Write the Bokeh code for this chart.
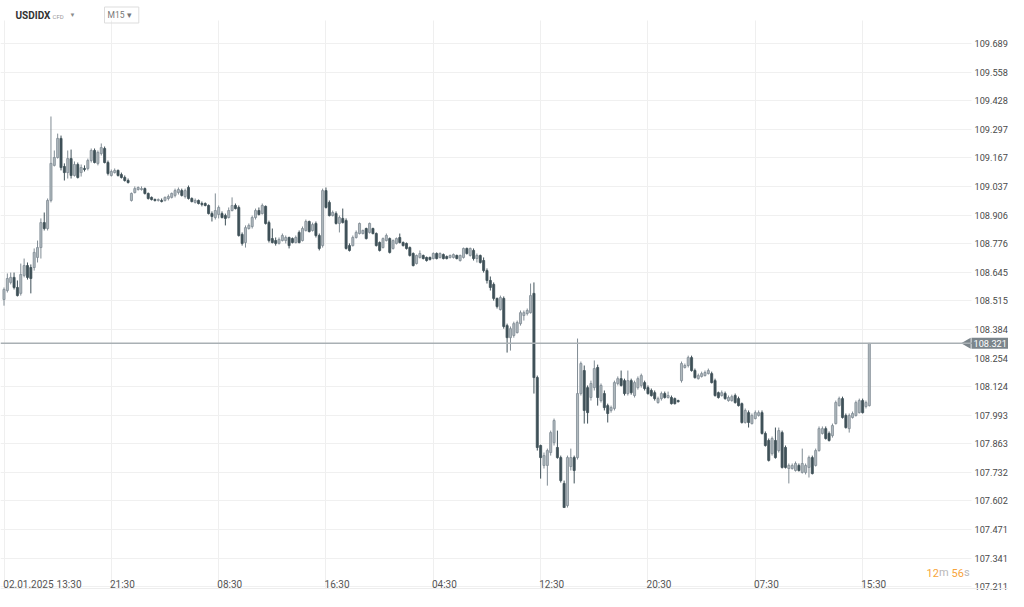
from bokeh.plotting import figure
from bokeh.models import ColumnDataSource, Range1d, FixedTicker, PrintfTickFormatter, Span, Label
from bokeh.embed import file_html
from bokeh.resources import INLINE
from bokeh.core.properties import value

symbol = "USDIDX"
instrument_type = "CFD"
timeframe = "M15"
last_price = 108.321
countdown_min = "12"
countdown_sec = "56"

opens = [
    108.521, 108.562, 108.599, 108.622, 108.576, 108.549, 108.631, 108.676, 108.667, 108.667,
    108.713, 108.758, 108.872, 108.845, 108.973, 109.133, 109.169, 109.256, 109.128, 109.100,
    109.164, 109.087, 109.137, 109.100, 109.119, 109.119, 109.155, 109.201, 109.142, 109.187,
    109.210, 109.146, 109.087, 109.100, 109.110, 109.091, 109.078, 109.064, 108.973, 109.009,
    109.023, 109.023, 109.027, 109.005, 108.987, 108.977, 108.973, 108.973, 108.973, 108.982,
    108.987, 108.996, 109.009, 109.018, 108.991, 109.032, 108.982, 108.964, 108.973, 108.959,
    108.959, 108.950, 108.913, 108.895, 108.909, 108.913, 108.904, 108.895, 108.927, 108.950,
    108.941, 108.818, 108.781, 108.845, 108.854, 108.895, 108.927, 108.913, 108.946, 108.872,
    108.799, 108.790, 108.777, 108.790, 108.790, 108.804, 108.799, 108.781, 108.827, 108.790,
    108.836, 108.877, 108.836, 108.868, 108.813, 108.767, 109.018, 108.964, 108.904, 108.913,
    108.868, 108.891, 108.881, 108.767, 108.767, 108.804, 108.822, 108.822, 108.845, 108.827,
    108.845, 108.822, 108.781, 108.758, 108.790, 108.799, 108.754, 108.777, 108.804, 108.781,
    108.777, 108.758, 108.731, 108.685, 108.713, 108.722, 108.713, 108.713, 108.708, 108.731,
    108.713, 108.726, 108.717, 108.713, 108.713, 108.722, 108.699, 108.713, 108.754, 108.722,
    108.745, 108.708, 108.722, 108.699, 108.653, 108.608, 108.590, 108.526, 108.475, 108.526,
    108.402, 108.347, 108.357, 108.370, 108.411, 108.448, 108.457, 108.461, 108.549, 108.165,
    107.855, 107.764, 107.764, 107.823, 107.868, 107.846, 107.800, 107.682, 107.581, 107.759,
    107.800, 107.800, 108.092, 108.197, 108.119, 108.074, 108.119, 108.211, 108.060, 108.092,
    108.037, 108.015, 108.024, 108.138, 108.160, 108.151, 108.092, 108.151, 108.083, 108.119,
    108.129, 108.142, 108.119, 108.106, 108.096, 108.051, 108.069, 108.092, 108.074, 108.074,
    108.069, 108.060, 108.151, 108.211, 108.220, 108.256, 108.197, 108.160, 108.170, 108.174,
    108.183, 108.183, 108.151, 108.096, 108.083, 108.092, 108.060, 108.060, 108.083, 108.069,
    108.046, 107.960, 108.005, 107.955, 107.978, 107.992, 108.005, 107.910, 107.878, 107.818,
    107.878, 107.832, 107.914, 107.846, 107.750, 107.750, 107.741, 107.764, 107.732, 107.732,
    107.755, 107.800, 107.764, 107.832, 107.910, 107.932, 107.910, 107.900, 107.955, 108.037,
    108.069, 107.992, 107.932, 107.983, 107.992, 108.005, 108.060, 108.033, 108.037,
]

highs = [
    108.576, 108.640, 108.644, 108.644, 108.608, 108.685, 108.708, 108.690, 108.681, 108.754,
    108.790, 108.891, 108.918, 108.982, 109.356, 109.201, 109.278, 109.269, 109.142, 109.201,
    109.205, 109.151, 109.146, 109.137, 109.133, 109.164, 109.210, 109.210, 109.201, 109.233,
    109.219, 109.155, 109.114, 109.119, 109.114, 109.100, 109.087, 109.073, 109.009, 109.037,
    109.037, 109.037, 109.032, 109.009, 108.991, 108.982, 108.982, 108.982, 108.991, 109.000,
    109.009, 109.027, 109.032, 109.027, 109.027, 109.041, 108.987, 108.982, 108.977, 108.968,
    108.964, 108.955, 108.923, 109.005, 108.950, 108.923, 108.913, 108.941, 108.987, 108.959,
    108.950, 108.827, 108.859, 108.868, 108.904, 108.936, 108.941, 108.959, 108.950, 108.881,
    108.845, 108.804, 108.804, 108.822, 108.813, 108.808, 108.804, 108.813, 108.836, 108.854,
    108.886, 108.881, 108.872, 108.877, 108.822, 109.027, 109.032, 108.973, 108.927, 108.923,
    108.904, 108.936, 108.891, 108.777, 108.813, 108.836, 108.872, 108.840, 108.849, 108.872,
    108.849, 108.827, 108.786, 108.804, 108.822, 108.804, 108.795, 108.804, 108.822, 108.786,
    108.781, 108.763, 108.736, 108.726, 108.745, 108.726, 108.717, 108.717, 108.736, 108.736,
    108.736, 108.731, 108.722, 108.726, 108.731, 108.726, 108.726, 108.758, 108.758, 108.758,
    108.754, 108.731, 108.726, 108.713, 108.663, 108.626, 108.599, 108.530, 108.539, 108.535,
    108.411, 108.398, 108.420, 108.425, 108.471, 108.471, 108.480, 108.594, 108.599, 108.174,
    107.859, 107.823, 107.841, 107.923, 107.978, 107.923, 107.809, 107.695, 107.809, 107.841,
    107.809, 108.343, 108.238, 108.220, 108.129, 108.151, 108.243, 108.224, 108.138, 108.106,
    108.046, 108.037, 108.151, 108.170, 108.197, 108.160, 108.197, 108.160, 108.151, 108.170,
    108.183, 108.151, 108.129, 108.115, 108.106, 108.078, 108.101, 108.101, 108.101, 108.083,
    108.074, 108.064, 108.238, 108.229, 108.265, 108.265, 108.206, 108.183, 108.192, 108.197,
    108.206, 108.192, 108.160, 108.101, 108.106, 108.101, 108.083, 108.087, 108.092, 108.078,
    108.051, 108.024, 108.015, 108.001, 108.015, 108.015, 108.015, 107.919, 107.887, 107.896,
    107.937, 107.937, 107.923, 107.855, 107.773, 107.773, 107.782, 107.773, 107.841, 107.773,
    107.809, 107.809, 107.841, 107.942, 107.942, 107.942, 107.919, 107.955, 108.060, 108.078,
    108.078, 108.001, 108.001, 108.010, 108.060, 108.069, 108.069, 108.060, 108.321,
]

lows = [
    108.493, 108.553, 108.590, 108.567, 108.535, 108.539, 108.622, 108.612, 108.549, 108.653,
    108.690, 108.708, 108.836, 108.836, 108.964, 109.128, 109.164, 109.110, 109.064, 109.073,
    109.073, 109.082, 109.073, 109.082, 109.105, 109.110, 109.146, 109.142, 109.133, 109.178,
    109.142, 109.087, 109.082, 109.096, 109.082, 109.073, 109.059, 109.050, 108.968, 109.005,
    109.018, 109.018, 109.000, 108.977, 108.973, 108.968, 108.968, 108.964, 108.968, 108.973,
    108.982, 108.987, 109.000, 108.991, 108.982, 108.977, 108.964, 108.959, 108.955, 108.946,
    108.946, 108.909, 108.877, 108.886, 108.891, 108.891, 108.859, 108.891, 108.923, 108.932,
    108.808, 108.767, 108.758, 108.840, 108.845, 108.886, 108.904, 108.909, 108.863, 108.781,
    108.777, 108.767, 108.772, 108.786, 108.777, 108.754, 108.777, 108.777, 108.777, 108.786,
    108.831, 108.827, 108.831, 108.804, 108.745, 108.758, 108.936, 108.900, 108.900, 108.863,
    108.827, 108.868, 108.749, 108.740, 108.763, 108.799, 108.818, 108.818, 108.795, 108.822,
    108.818, 108.763, 108.740, 108.754, 108.786, 108.731, 108.749, 108.772, 108.777, 108.763,
    108.749, 108.717, 108.672, 108.681, 108.708, 108.704, 108.694, 108.699, 108.704, 108.704,
    108.708, 108.704, 108.704, 108.708, 108.708, 108.704, 108.694, 108.708, 108.726, 108.717,
    108.699, 108.690, 108.685, 108.644, 108.594, 108.562, 108.516, 108.480, 108.471, 108.388,
    108.279, 108.288, 108.347, 108.366, 108.402, 108.425, 108.448, 108.457, 108.092, 107.832,
    107.704, 107.750, 107.672, 107.809, 107.855, 107.795, 107.686, 107.572, 107.572, 107.741,
    107.682, 107.791, 108.083, 107.955, 107.955, 108.060, 108.106, 108.037, 108.051, 108.015,
    107.960, 108.005, 108.015, 108.129, 108.124, 108.083, 108.083, 108.087, 108.074, 108.110,
    108.119, 108.106, 108.087, 108.078, 108.060, 108.046, 108.060, 108.069, 108.069, 108.042,
    108.042, 108.051, 108.142, 108.206, 108.211, 108.192, 108.160, 108.156, 108.165, 108.170,
    108.179, 108.138, 108.078, 108.069, 108.078, 108.064, 108.055, 108.055, 108.046, 108.033,
    107.955, 107.955, 107.937, 107.951, 107.974, 107.987, 107.905, 107.850, 107.782, 107.809,
    107.795, 107.823, 107.750, 107.750, 107.682, 107.745, 107.736, 107.736, 107.727, 107.723,
    107.709, 107.723, 107.759, 107.827, 107.905, 107.882, 107.873, 107.891, 107.951, 108.033,
    107.978, 107.932, 107.914, 107.978, 107.987, 108.001, 108.001, 108.024, 108.033,
]

closes = [
    108.567, 108.617, 108.622, 108.576, 108.539, 108.635, 108.676, 108.622, 108.617, 108.736,
    108.758, 108.872, 108.845, 108.973, 109.142, 109.169, 109.256, 109.123, 109.100, 109.164,
    109.087, 109.137, 109.078, 109.123, 109.114, 109.155, 109.201, 109.146, 109.192, 109.214,
    109.146, 109.096, 109.105, 109.110, 109.087, 109.078, 109.064, 109.055, 109.005, 109.027,
    109.032, 109.027, 109.005, 108.982, 108.977, 108.973, 108.977, 108.968, 108.987, 108.991,
    109.005, 109.018, 109.023, 108.996, 109.018, 108.982, 108.968, 108.973, 108.959, 108.955,
    108.950, 108.913, 108.900, 108.927, 108.941, 108.895, 108.891, 108.927, 108.950, 108.936,
    108.813, 108.777, 108.849, 108.859, 108.895, 108.927, 108.909, 108.950, 108.868, 108.790,
    108.781, 108.777, 108.795, 108.813, 108.804, 108.767, 108.781, 108.804, 108.781, 108.845,
    108.877, 108.831, 108.863, 108.813, 108.754, 109.018, 108.941, 108.904, 108.918, 108.868,
    108.895, 108.872, 108.754, 108.745, 108.804, 108.827, 108.868, 108.836, 108.799, 108.868,
    108.822, 108.767, 108.745, 108.799, 108.813, 108.736, 108.790, 108.799, 108.781, 108.767,
    108.754, 108.722, 108.676, 108.722, 108.731, 108.708, 108.699, 108.704, 108.731, 108.708,
    108.731, 108.708, 108.708, 108.722, 108.726, 108.708, 108.722, 108.754, 108.731, 108.754,
    108.708, 108.722, 108.690, 108.653, 108.608, 108.576, 108.526, 108.489, 108.530, 108.398,
    108.347, 108.388, 108.411, 108.416, 108.461, 108.461, 108.471, 108.539, 108.165, 107.846,
    107.800, 107.809, 107.832, 107.914, 107.969, 107.800, 107.695, 107.572, 107.800, 107.800,
    107.741, 108.092, 108.229, 108.015, 108.005, 108.138, 108.206, 108.074, 108.129, 108.028,
    108.001, 108.028, 108.142, 108.160, 108.129, 108.092, 108.151, 108.096, 108.142, 108.160,
    108.174, 108.115, 108.092, 108.083, 108.069, 108.069, 108.092, 108.074, 108.083, 108.046,
    108.046, 108.055, 108.229, 108.220, 108.256, 108.197, 108.165, 108.174, 108.183, 108.188,
    108.197, 108.142, 108.083, 108.074, 108.096, 108.069, 108.074, 108.078, 108.051, 108.037,
    107.960, 108.015, 107.960, 107.992, 108.005, 108.005, 107.910, 107.855, 107.787, 107.887,
    107.800, 107.923, 107.755, 107.755, 107.764, 107.764, 107.773, 107.741, 107.773, 107.764,
    107.800, 107.727, 107.832, 107.932, 107.932, 107.887, 107.878, 107.946, 108.051, 108.069,
    107.983, 107.937, 107.992, 108.001, 108.051, 108.060, 108.005, 108.051, 108.321,
]

price_ticks = [107.211, 107.341, 107.471, 107.602, 107.732, 107.863, 107.993, 108.124,
               108.254, 108.384, 108.515, 108.645, 108.776, 108.906, 109.037, 109.167,
               109.297, 109.428, 109.558, 109.689]
date_label = "02.01.2025"
time_labels = ["13:30", "21:30", "08:30", "16:30", "04:30",
               "12:30", "20:30", "07:30", "15:30"]
time_label_bars = [0, 32, 64, 96, 128, 160, 192, 224, 256]

# ---- layout calibration (pixels inside the figure) ----
W, H = 1008, 591
BAR0_PX, BAR_STEP_PX = 3.5, 3.354
REF_PRICE, REF_PX, PX_PER_UNIT = 109.689, 43.0, 219.2
PLOT_RIGHT_PX, AXIS_LINE_PX, LABEL_ROW_PX = 971, 588, 578


def xpx(px):
    return (px - BAR0_PX) / BAR_STEP_PX


def ypx(py):
    return REF_PRICE - (py - REF_PX) / PX_PER_UNIT


n = len(closes)
idx = list(range(n))
up_i = [i for i in idx if closes[i] >= opens[i]]
dn_i = [i for i in idx if closes[i] < opens[i]]


def src(ids):
    return ColumnDataSource(dict(
        x=ids,
        top=[max(opens[i], closes[i]) for i in ids],
        bottom=[min(opens[i], closes[i]) for i in ids],
        high=[highs[i] for i in ids],
        low=[lows[i] for i in ids],
    ))


up_src, dn_src = src(up_i), src(dn_i)

p = figure(width=W, height=H,
           x_range=Range1d(xpx(0), xpx(W)),
           y_range=Range1d(ypx(H), ypx(0)),
           y_axis_location="right", toolbar_location=None, output_backend="svg",
           min_border=0, min_border_left=0, min_border_right=0,
           min_border_top=0, min_border_bottom=0,
           background_fill_color="white", border_fill_color="white")
p.outline_line_color = None

# grid
p.xgrid.ticker = FixedTicker(ticks=time_label_bars)
p.ygrid.ticker = FixedTicker(ticks=price_ticks)
p.xgrid.grid_line_color = "#efefef"
p.ygrid.grid_line_color = "#f0f0f0"
try:
    p.ygrid.cross_bounds = (xpx(0), xpx(PLOT_RIGHT_PX))
    p.xgrid.cross_bounds = (ypx(AXIS_LINE_PX), ypx(20))
except Exception:
    pass

# x axis (drawn inside the plot area)
label_pos = [7.3, 19.4] + [b + 3.3 for b in time_label_bars[1:]]
label_pos = [round(v, 2) for v in label_pos]
label_txt = [date_label] + time_labels
p.xaxis.fixed_location = ypx(LABEL_ROW_PX)
p.xaxis.ticker = FixedTicker(ticks=label_pos)
p.xaxis.major_label_overrides = {v: t for v, t in zip(label_pos, label_txt)}
p.xaxis.major_tick_line_color = None
p.xaxis.major_tick_out = 0
p.xaxis.major_tick_in = 0
p.xaxis.minor_tick_line_color = None
p.xaxis.minor_tick_out = 0
p.xaxis.axis_line_color = None
p.xaxis.major_label_standoff = 0
p.xaxis.major_label_text_font = "Roboto"
p.xaxis.major_label_text_font_size = "10px"
p.xaxis.major_label_text_color = "#555555"
p.add_layout(Span(location=ypx(AXIS_LINE_PX), dimension="width", line_color="#ededed", line_width=1))

# y axis (drawn inside the plot area, right side)
p.yaxis.fixed_location = xpx(PLOT_RIGHT_PX)
p.yaxis.ticker = FixedTicker(ticks=price_ticks)
p.yaxis.formatter = PrintfTickFormatter(format="%.3f")
p.yaxis.major_tick_line_color = None
p.yaxis.major_tick_out = 0
p.yaxis.major_tick_in = 0
p.yaxis.minor_tick_line_color = None
p.yaxis.minor_tick_out = 0
p.yaxis.axis_line_color = None
p.yaxis.major_label_standoff = 3
p.yaxis.major_label_text_font = "Roboto"
p.yaxis.major_label_text_font_size = "9.2px"
p.yaxis.major_label_text_color = "#4a4a4a"

# last price line
p.add_layout(Span(location=last_price, dimension="width", line_color="#a9b0b4", line_width=1.5))

# candles
UP_FILL, UP_LINE = "#b0b9be", "#808c94"
DN_FILL, DN_LINE = "#3f5058", "#3f5058"
p.segment(x0="x", y0="low", x1="x", y1="high", source=up_src, line_color=UP_LINE, line_width=1)
p.segment(x0="x", y0="low", x1="x", y1="high", source=dn_src, line_color=DN_LINE, line_width=1)
p.vbar(x="x", width=0.62, top="top", bottom="bottom", source=up_src,
       fill_color=UP_FILL, line_color=UP_LINE, line_width=0.8)
p.vbar(x="x", width=0.62, top="top", bottom="bottom", source=dn_src,
       fill_color=DN_FILL, line_color=DN_LINE, line_width=0.8)

# header
font = value("Roboto")
p.text(x=[xpx(15)], y=[ypx(15)], text=[symbol], text_font=font, text_font_style="bold",
       text_font_size="10px", text_color="#333333", text_baseline="middle", text_align="left")
p.text(x=[xpx(52)], y=[ypx(15.5)], text=[instrument_type], text_font=font,
       text_font_size="6px", text_color="#9a9a9a", text_baseline="middle", text_align="left")
p.text(x=[xpx(69)], y=[ypx(14)], text=["▼"], text_font=font,
       text_font_size="6px", text_color="#8a8a8a", text_baseline="middle", text_align="left")
p.add_layout(Label(x=xpx(104), y=ypx(14.5), text=timeframe + "   ▾", text_font="Roboto",
                   text_font_size="8.5px", text_color="#777777", text_baseline="middle",
                   text_align="left", border_line_color="#dddddd", padding=3))

# countdown
for t, xp, col in [(countdown_min, 926, "#f7a43a"), ("m", 938.5, "#b8b8b8"),
                   (countdown_sec, 951, "#f7a43a"), ("s", 963.5, "#b8b8b8")]:
    p.text(x=[xpx(xp)], y=[ypx(572)], text=[t], text_font=font, text_font_size="11px",
           text_color=col, text_baseline="middle", text_align="left")

# last price tag on the axis
p.scatter(x=[xpx(967)], y=[last_price], marker="triangle", size=11, angle=1.5708,
          fill_color="#7b858b", line_color=None)
p.add_layout(Label(x=xpx(971), y=last_price, text=f"{last_price:.3f}", text_font="Roboto",
                   text_font_size="9.2px", text_color="white", text_baseline="middle",
                   text_align="left", background_fill_color="#7b858b", padding=2))

open("out.html", "w").write(file_html(p, INLINE))
